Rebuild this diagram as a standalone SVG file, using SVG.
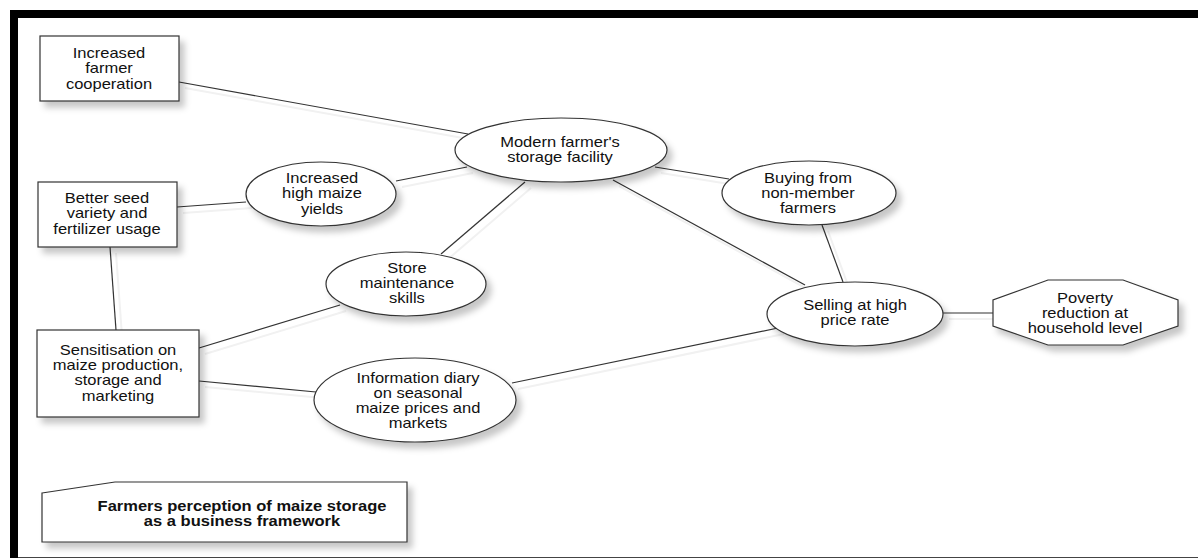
<svg xmlns="http://www.w3.org/2000/svg" width="1198" height="560" viewBox="0 0 1198 560">
<style>
.n{fill:#fff;stroke:#333;stroke-width:1.2}
.t{font-family:"Liberation Sans",Arial,sans-serif;font-size:14px;fill:#111;text-anchor:middle}
.b{font-weight:bold}
.c{stroke:#333;stroke-width:1.2;fill:none}
.cs{stroke:#f1f1f1;stroke-width:2;fill:none}
</style>
<defs>
<filter id="sh" x="-20%" y="-20%" width="150%" height="160%">
<feDropShadow dx="5" dy="6" stdDeviation="3" flood-color="#000" flood-opacity="0.22"/>
</filter>
</defs>
<rect x="0" y="0" width="1198" height="560" fill="#fff"/>
<rect x="10" y="10" width="1188" height="8" fill="#000"/>
<rect x="10" y="10" width="8" height="548" fill="#000"/>
<line x1="18" y1="557.5" x2="1198" y2="557.5" stroke="#444" stroke-width="1"/>

<g id="connectors">
<g transform="translate(6,6)">
<line class="cs" x1="179" y1="82" x2="468" y2="134"/>
<line class="cs" x1="177" y1="207" x2="246" y2="202"/>
<line class="cs" x1="396" y1="181" x2="467" y2="167"/>
<line class="cs" x1="525" y1="182" x2="441" y2="254"/>
<line class="cs" x1="613" y1="180" x2="805" y2="285"/>
<line class="cs" x1="655" y1="167" x2="729" y2="179"/>
<line class="cs" x1="822" y1="225" x2="843" y2="282"/>
<line class="cs" x1="943" y1="313" x2="993" y2="313"/>
<line class="cs" x1="110" y1="247" x2="116" y2="330"/>
<line class="cs" x1="199" y1="348" x2="340" y2="305"/>
<line class="cs" x1="199" y1="381" x2="316" y2="392"/>
<line class="cs" x1="512" y1="383" x2="778" y2="328"/>
</g>
<line class="c" x1="179" y1="82" x2="468" y2="134"/>
<line class="c" x1="177" y1="207" x2="246" y2="202"/>
<line class="c" x1="396" y1="181" x2="467" y2="167"/>
<line class="c" x1="525" y1="182" x2="441" y2="254"/>
<line class="c" x1="613" y1="180" x2="805" y2="285"/>
<line class="c" x1="655" y1="167" x2="729" y2="179"/>
<line class="c" x1="822" y1="225" x2="843" y2="282"/>
<line class="c" x1="943" y1="313" x2="993" y2="313"/>
<line class="c" x1="110" y1="247" x2="116" y2="330"/>
<line class="c" x1="199" y1="348" x2="340" y2="305"/>
<line class="c" x1="199" y1="381" x2="316" y2="392"/>
<line class="c" x1="512" y1="383" x2="778" y2="328"/>
</g>

<g id="cooperation">
<rect class="n" x="40" y="36" width="139" height="65" filter="url(#sh)"/>
<text class="t" transform="translate(109,58) scale(1.18,1)"><tspan x="0" y="0">Increased</tspan><tspan x="0" y="15.5">farmer</tspan><tspan x="0" y="31">cooperation</tspan></text>
</g>

<g id="seed">
<rect class="n" x="38" y="182" width="139" height="65" filter="url(#sh)"/>
<text class="t" transform="translate(107,203) scale(1.18,1)"><tspan x="0" y="0">Better seed</tspan><tspan x="0" y="15.5">variety and</tspan><tspan x="0" y="31">fertilizer usage</tspan></text>
</g>

<g id="yields">
<ellipse class="n" cx="321" cy="194" rx="75" ry="32" filter="url(#sh)"/>
<text class="t" transform="translate(322,183) scale(1.18,1)"><tspan x="0" y="0">Increased</tspan><tspan x="0" y="15.3">high maize</tspan><tspan x="0" y="30.6">yields</tspan></text>
</g>

<g id="sensitisation">
<rect class="n" x="37" y="330" width="162" height="87" filter="url(#sh)"/>
<text class="t" transform="translate(118,355) scale(1.18,1)"><tspan x="0" y="0">Sensitisation on</tspan><tspan x="0" y="15.2">maize production,</tspan><tspan x="0" y="30.4">storage and</tspan><tspan x="0" y="45.6">marketing</tspan></text>
</g>

<g id="store">
<ellipse class="n" cx="406" cy="284" rx="80" ry="32" filter="url(#sh)"/>
<text class="t" transform="translate(407,273) scale(1.18,1)"><tspan x="0" y="0">Store</tspan><tspan x="0" y="15">maintenance</tspan><tspan x="0" y="30">skills</tspan></text>
</g>

<g id="info">
<ellipse class="n" cx="415" cy="400" rx="101" ry="42" filter="url(#sh)"/>
<text class="t" transform="translate(418,383) scale(1.18,1)"><tspan x="0" y="0">Information diary</tspan><tspan x="0" y="15">on seasonal</tspan><tspan x="0" y="30">maize prices and</tspan><tspan x="0" y="45">markets</tspan></text>
</g>

<g id="modern">
<ellipse class="n" cx="561" cy="150" rx="106" ry="32" filter="url(#sh)"/>
<text class="t" transform="translate(560,147) scale(1.18,1)"><tspan x="0" y="0">Modern farmer's</tspan><tspan x="0" y="15">storage facility</tspan></text>
</g>

<g id="buying">
<ellipse class="n" cx="809" cy="193" rx="87" ry="32" filter="url(#sh)"/>
<text class="t" transform="translate(808,183) scale(1.18,1)"><tspan x="0" y="0">Buying from</tspan><tspan x="0" y="15">non-member</tspan><tspan x="0" y="30">farmers</tspan></text>
</g>

<g id="selling">
<ellipse class="n" cx="855" cy="314" rx="88" ry="32" filter="url(#sh)"/>
<text class="t" transform="translate(855,310) scale(1.18,1)"><tspan x="0" y="0">Selling at high</tspan><tspan x="0" y="15">price rate</tspan></text>
</g>

<g id="poverty">
<polygon class="n" points="1048,280 1123,280 1178,300 1178,326 1123,345 1048,345 993,326 993,300" filter="url(#sh)"/>
<text class="t" transform="translate(1085,303) scale(1.18,1)"><tspan x="0" y="0">Poverty</tspan><tspan x="0" y="15">reduction at</tspan><tspan x="0" y="30">household level</tspan></text>
</g>

<g id="caption">
<polygon class="n" points="42,493 115,482 407,482 407,542 42,542" filter="url(#sh)"/>
<text class="t b" transform="translate(242,511) scale(1.18,1)"><tspan x="0" y="0">Farmers perception of maize storage</tspan><tspan x="0" y="15">as a business framework</tspan></text>
</g>
</svg>
